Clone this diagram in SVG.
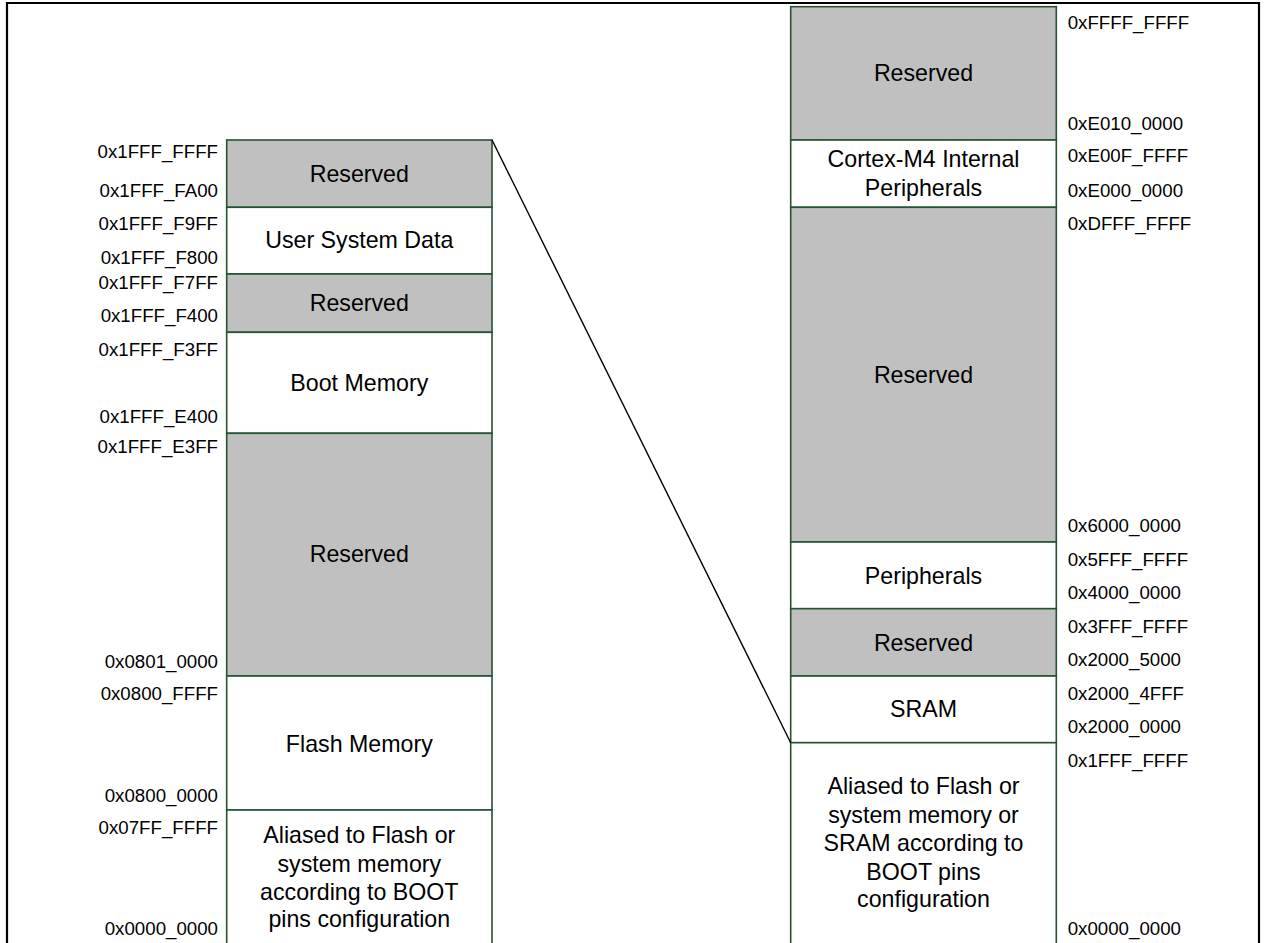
<svg xmlns="http://www.w3.org/2000/svg" width="1265" height="943" viewBox="0 0 1265 943">
<style>
.res{fill:#C0C0C0;stroke:#245232;stroke-width:1.6}
.mem{fill:#FFFFFF;stroke:#245232;stroke-width:1.6}
.lbl{font-family:"Liberation Sans",Arial,sans-serif;font-size:23.2px;fill:#000;text-anchor:middle}
.adl{font-family:"Liberation Sans",Arial,sans-serif;font-size:18.7px;fill:#000;text-anchor:end}
.adr{font-family:"Liberation Sans",Arial,sans-serif;font-size:18.7px;fill:#000;text-anchor:start}
.frame{fill:none;stroke:#000;stroke-width:2.2}
.conn{stroke:#000;stroke-width:1.4;fill:none}
</style>
<rect x="0" y="0" width="1265" height="943" fill="#FFFFFF"/>
<polyline class="frame" points="7,943 7,3 1259,3 1259,943"/>

<g id="left-map">
<g id="l-reserved-1"><rect class="res" x="226.7" y="140" width="265.3" height="67.3"/><text class="lbl" x="359.3" y="181.7">Reserved</text></g>
<g id="l-user-system-data"><rect class="mem" x="226.7" y="207.3" width="265.3" height="66.7"/><text class="lbl" x="359.3" y="248.3">User System Data</text></g>
<g id="l-reserved-2"><rect class="res" x="226.7" y="274" width="265.3" height="58.3"/><text class="lbl" x="359.3" y="310.7">Reserved</text></g>
<g id="l-boot-memory"><rect class="mem" x="226.7" y="332.3" width="265.3" height="101"/><text class="lbl" x="359.3" y="390.7">Boot Memory</text></g>
<g id="l-reserved-3"><rect class="res" x="226.7" y="433.3" width="265.3" height="242.7"/><text class="lbl" x="359.3" y="562.3">Reserved</text></g>
<g id="l-flash-memory"><rect class="mem" x="226.7" y="676" width="265.3" height="134"/><text class="lbl" x="359.3" y="752">Flash Memory</text></g>
<g id="l-aliased"><rect class="mem" x="226.7" y="810" width="265.3" height="140"/>
<text class="lbl" x="359.3" y="842.7">Aliased to Flash or</text>
<text class="lbl" x="359.3" y="871.7">system memory</text>
<text class="lbl" x="359.3" y="900">according to BOOT</text>
<text class="lbl" x="359.3" y="927.3">pins configuration</text></g>
<g id="l-addresses">
<text class="adl" x="218" y="158.3">0x1FFF_FFFF</text>
<text class="adl" x="218" y="197.3">0x1FFF_FA00</text>
<text class="adl" x="218" y="230">0x1FFF_F9FF</text>
<text class="adl" x="218" y="264.3">0x1FFF_F800</text>
<text class="adl" x="218" y="289">0x1FFF_F7FF</text>
<text class="adl" x="218" y="322.3">0x1FFF_F400</text>
<text class="adl" x="218" y="356">0x1FFF_F3FF</text>
<text class="adl" x="218" y="423.3">0x1FFF_E400</text>
<text class="adl" x="218" y="453.3">0x1FFF_E3FF</text>
<text class="adl" x="218" y="668.3">0x0801_0000</text>
<text class="adl" x="218" y="700">0x0800_FFFF</text>
<text class="adl" x="218" y="802.3">0x0800_0000</text>
<text class="adl" x="218" y="834">0x07FF_FFFF</text>
<text class="adl" x="218" y="935">0x0000_0000</text>
</g>
</g>

<g id="right-map">
<g id="r-reserved-1"><rect class="res" x="790.7" y="6.7" width="265.6" height="133.3"/><text class="lbl" x="923.5" y="80.7">Reserved</text></g>
<g id="r-cortex"><rect class="mem" x="790.7" y="140" width="265.6" height="67.3"/><text class="lbl" x="923.5" y="166.7">Cortex-M4 Internal</text><text class="lbl" x="923.5" y="195.7">Peripherals</text></g>
<g id="r-reserved-2"><rect class="res" x="790.7" y="207.3" width="265.6" height="334.7"/><text class="lbl" x="923.5" y="382.7">Reserved</text></g>
<g id="r-peripherals"><rect class="mem" x="790.7" y="542" width="265.6" height="66.7"/><text class="lbl" x="923.5" y="584">Peripherals</text></g>
<g id="r-reserved-3"><rect class="res" x="790.7" y="608.7" width="265.6" height="67.3"/><text class="lbl" x="923.5" y="650.7">Reserved</text></g>
<g id="r-sram"><rect class="mem" x="790.7" y="676" width="265.6" height="66.7"/><text class="lbl" x="923.5" y="717.3">SRAM</text></g>
<g id="r-aliased"><rect class="mem" x="790.7" y="742.7" width="265.6" height="210"/>
<text class="lbl" x="923.5" y="794.3">Aliased to Flash or</text>
<text class="lbl" x="923.5" y="823.3">system memory or</text>
<text class="lbl" x="923.5" y="851">SRAM according to</text>
<text class="lbl" x="923.5" y="880">BOOT pins</text>
<text class="lbl" x="923.5" y="907.3">configuration</text></g>
<g id="r-addresses">
<text class="adr" x="1067.7" y="29.3">0xFFFF_FFFF</text>
<text class="adr" x="1067.7" y="130">0xE010_0000</text>
<text class="adr" x="1067.7" y="162.3">0xE00F_FFFF</text>
<text class="adr" x="1067.7" y="197.3">0xE000_0000</text>
<text class="adr" x="1067.7" y="230">0xDFFF_FFFF</text>
<text class="adr" x="1067.7" y="532">0x6000_0000</text>
<text class="adr" x="1067.7" y="565.7">0x5FFF_FFFF</text>
<text class="adr" x="1067.7" y="598.7">0x4000_0000</text>
<text class="adr" x="1067.7" y="633.3">0x3FFF_FFFF</text>
<text class="adr" x="1067.7" y="666">0x2000_5000</text>
<text class="adr" x="1067.7" y="700">0x2000_4FFF</text>
<text class="adr" x="1067.7" y="733.3">0x2000_0000</text>
<text class="adr" x="1067.7" y="766.7">0x1FFF_FFFF</text>
<text class="adr" x="1067.7" y="935">0x0000_0000</text>
</g>
</g>

<g id="connectors">
<line class="conn" x1="492" y1="140" x2="790.7" y2="742.7"/>
</g>
</svg>
